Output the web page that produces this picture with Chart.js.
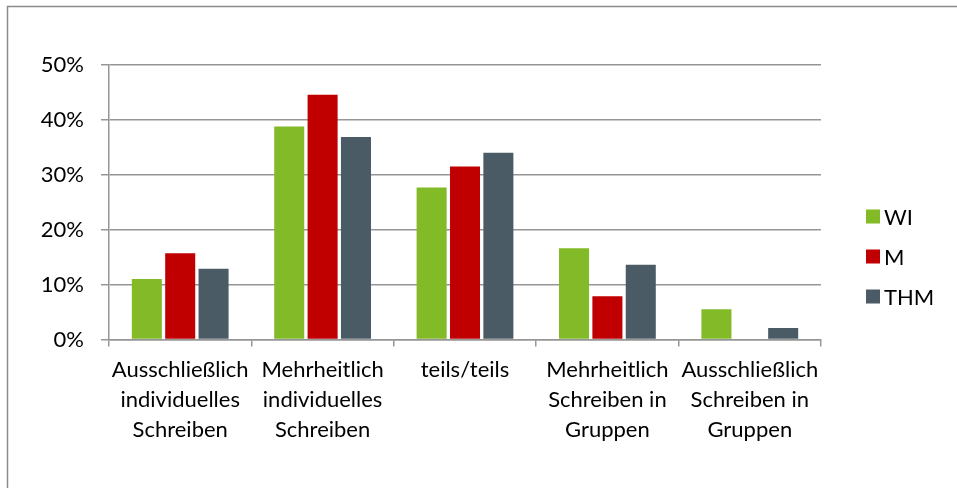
<!DOCTYPE html>
<html>
<head>
<meta charset="utf-8">
<script src="https://cdn.jsdelivr.net/npm/chart.js@4/dist/chart.umd.min.js"></script>
<style>
html,body{margin:0;padding:0;background:#fff;}
#wrap{position:relative;width:957px;height:488px;}
</style>
</head>
<body>
<div id="wrap"><canvas id="c" width="957" height="488"></canvas></div>
<script>
const categories = [
  ["Ausschließlich", "individuelles", "Schreiben"],
  ["Mehrheitlich", "individuelles", "Schreiben"],
  ["teils/teils"],
  ["Mehrheitlich", "Schreiben in", "Gruppen"],
  ["Ausschließlich", "Schreiben in", "Gruppen"]
];
const seriesNames = ["WI", "M", "THM"];
const wiValues  = [11.0, 38.8, 27.7, 16.6, 5.5];
const mValues   = [15.7, 44.6, 31.5, 7.9, 0];
const thmValues = [12.9, 36.9, 34.0, 13.6, 2.1];
const yTicks = [0, 10, 20, 30, 40, 50];
const colors = ["#83BA27", "#C00000", "#4A5B66"];

const FONT = "Lato";
const gridColor = "#969696";

const framePlugin = {
  id: "frame",
  afterDraw(chart) {
    const ctx = chart.ctx;
    ctx.save();
    ctx.strokeStyle = "#8a8a8a";
    ctx.lineWidth = 1.5;
    ctx.beginPath();
    ctx.moveTo(7.5, 488);
    ctx.lineTo(7.5, 6.5);
    ctx.lineTo(957, 6.5);
    ctx.stroke();
    ctx.restore();
  }
};

const legendPlugin = {
  id: "customLegend",
  afterDraw(chart) {
    const ctx = chart.ctx;
    ctx.save();
    ctx.font = "22px " + FONT;
    ctx.textBaseline = "middle";
    ctx.textAlign = "left";
    chart.data.datasets.forEach((ds, i) => {
      const cy = 216.5 + i * 40;
      ctx.fillStyle = ds.backgroundColor;
      ctx.fillRect(866, cy - 7, 14, 14);
      ctx.fillStyle = "#000";
      ctx.fillText(ds.label, 884, cy + 1);
    });
    ctx.restore();
  }
};

new Chart(document.getElementById("c"), {
  type: "bar",
  data: {
    labels: categories,
    datasets: [
      { label: seriesNames[0], data: wiValues, backgroundColor: colors[0] },
      { label: seriesNames[1], data: mValues, backgroundColor: colors[1] },
      { label: seriesNames[2], data: thmValues, backgroundColor: colors[2] }
    ]
  },
  options: {
    responsive: false,
    animation: false,
    devicePixelRatio: 1,
    layout: { padding: { top: 65, left: 0, right: 136, bottom: 0 } },
    datasets: { bar: { categoryPercentage: 0.703, barPercentage: 0.9 } },
    plugins: { legend: { display: false }, tooltip: { enabled: false } },
    scales: {
      x: {
        grid: { display: true, drawOnChartArea: false, drawTicks: true, tickLength: 7, color: gridColor, lineWidth: 1.5, offset: true },
        border: { display: true, color: gridColor, width: 1.5 },
        ticks: { color: "#000", font: { family: FONT, size: 22, lineHeight: 1.38 }, padding: 8, maxRotation: 0, autoSkip: false },
        afterFit(scale) { scale.height = 148.5; }
      },
      y: {
        min: 0, max: 50,
        afterBuildTicks(scale) { scale.ticks = yTicks.map(v => ({ value: v })); },
        grid: { color: gridColor, lineWidth: 1.5, tickLength: 8 },
        border: { display: true, color: gridColor, width: 1.5 },
        ticks: { color: "#000", font: { family: FONT, size: 22 }, padding: 17, callback: v => v + "%" },
        afterFit(scale) { scale.width = 109; }
      }
    }
  },
  plugins: [framePlugin, legendPlugin]
});
</script>
</body>
</html>
